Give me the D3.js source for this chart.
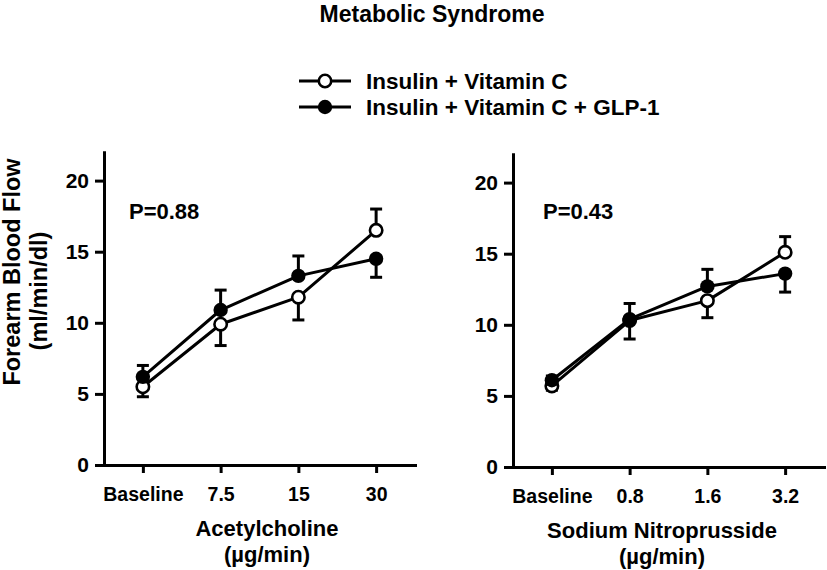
<!DOCTYPE html>
<html><head><meta charset="utf-8">
<script src="https://cdn.jsdelivr.net/npm/d3@7"></script>
<style>
body{margin:0;background:#fff;}
text{font-family:"Liberation Sans",Arial,Helvetica,sans-serif;font-weight:bold;fill:#000;}
</style></head>
<body>
<svg id="chart" width="827" height="570"></svg>
<script>
const title = "Metabolic Syndrome";
const seriesNames = ["Insulin + Vitamin C", "Insulin + Vitamin C + GLP-1"];
const yTicks = [0, 5, 10, 15, 20];
const yTitle = ["Forearm Blood Flow", "(ml/min/dl)"];

const achCategories = ["Baseline", "7.5", "15", "30"];
const achVitC = [5.5, 9.9, 11.8, 16.5];
const achVitCErr = [0.7, 1.5, 1.6, 1.5];
const achGLP = [6.2, 10.9, 13.3, 14.5];
const achGLPErr = [0.8, 1.4, 1.4, 1.3];
const achTitle = ["Acetylcholine", "(µg/min)"];
const achP = "P=0.88";

const snpCategories = ["Baseline", "0.8", "1.6", "3.2"];
const snpVitC = [5.7, 10.3, 11.7, 15.1];
const snpVitCErr = [0.3, 1.3, 1.2, 1.1];
const snpGLP = [6.1, 10.4, 12.7, 13.6];
const snpGLPErr = [0.3, 1.1, 1.2, 1.3];
const snpTitle = ["Sodium Nitroprusside", "(µg/min)"];
const snpP = "P=0.43";

const svg = d3.select("#chart");
const SW = 3;

svg.append("text").attr("x", 432).attr("y", 22).attr("text-anchor", "middle")
  .style("font-size", "23px").text(title);

// legend
seriesNames.forEach((name, i) => {
  const y = 81 + i * 26;
  const g = svg.append("g");
  g.append("line").attr("x1", 299).attr("x2", 351).attr("y1", y).attr("y2", y)
    .attr("stroke", "#000").attr("stroke-width", SW);
  g.append("circle").attr("cx", 325).attr("cy", y).attr("r", i === 0 ? 6.2 : 7.2)
    .attr("fill", i === 0 ? "#fff" : "#000").attr("stroke", "#000").attr("stroke-width", i === 0 ? 2.6 : 0);
  g.append("text").attr("x", 366).attr("y", y + 8).style("font-size", "22.5px").text(name);
});

// y axis title
svg.append("text").attr("transform", "translate(20,272) rotate(-90)").attr("text-anchor", "middle")
  .style("font-size", "23.5px").text(yTitle[0]);
svg.append("text").attr("transform", "translate(47,291) rotate(-90)").attr("text-anchor", "middle")
  .style("font-size", "23.5px").text(yTitle[1]);

function panel(opts) {
  const { x0, x1, yBottom, cats, vitC, vitCErr, glp, glpErr, xTitle, titleX, pText, pX } = opts;
  const y = d3.scaleLinear().domain([0, 22]).range([yBottom, yBottom - 22 * 14.22]);
  const x = d3.scalePoint().domain(cats).range([x0, x1]).padding(0.5);
  const g = svg.append("g");

  const ya = g.append("g").attr("transform", `translate(${x0},0)`)
    .call(d3.axisLeft(y).tickValues(yTicks).tickSize(9).tickSizeOuter(0).tickPadding(6));
  const xa = g.append("g").attr("transform", `translate(0,${yBottom})`)
    .call(d3.axisBottom(x).tickSize(8).tickSizeOuter(0).tickPadding(14));
  [ya, xa].forEach(a => {
    a.selectAll("path.domain").attr("stroke", "#000").attr("stroke-width", SW).attr("stroke-linecap", "square");
    a.selectAll(".tick line").attr("stroke", "#000").attr("stroke-width", SW);
    a.selectAll("text").attr("fill", "#000").style("font-family", '"Liberation Sans",Arial,sans-serif').style("font-weight", "bold");
  });
  ya.selectAll("text").style("font-size", "21px");
  xa.selectAll("text").style("font-size", "19.5px");

  g.append("text").attr("x", pX).attr("y", 219).style("font-size", "22px").text(pText);
  g.append("text").attr("x", titleX).attr("y", yBottom + 71).attr("text-anchor", "middle")
    .style("font-size", "22px").text(xTitle[0]);
  g.append("text").attr("x", titleX).attr("y", yBottom + 97).attr("text-anchor", "middle")
    .style("font-size", "22px").text(xTitle[1]);

  const series = [
    { vals: vitC, errs: vitCErr, other: glp, open: true },
    { vals: glp, errs: glpErr, other: vitC, open: false }
  ];
  const line = d3.line().x((d, i) => x(cats[i])).y(d => y(d));
  // error bars: higher series points up, lower points down
  series.forEach(s => {
    s.vals.forEach((v, i) => {
      const dir = v >= s.other[i] ? 1 : -1;
      const end = v + dir * s.errs[i];
      const cx = x(cats[i]);
      g.append("line").attr("x1", cx).attr("x2", cx).attr("y1", y(v)).attr("y2", y(end))
        .attr("stroke", "#000").attr("stroke-width", SW);
      g.append("line").attr("x1", cx - 6).attr("x2", cx + 6).attr("y1", y(end)).attr("y2", y(end))
        .attr("stroke", "#000").attr("stroke-width", SW);
    });
  });
  series.forEach(s => {
    g.append("path").datum(s.vals).attr("d", line).attr("fill", "none")
      .attr("stroke", "#000").attr("stroke-width", SW).attr("stroke-linejoin", "round");
  });
  series.forEach(s => {
    g.selectAll(null).data(s.vals).enter().append("circle")
      .attr("cx", (d, i) => x(cats[i])).attr("cy", d => y(d))
      .attr("r", s.open ? 6.2 : 7.2)
      .attr("fill", s.open ? "#fff" : "#000")
      .attr("stroke", "#000").attr("stroke-width", s.open ? 2.6 : 0);
  });
}

panel({ x0: 104, x1: 415, yBottom: 465, cats: achCategories, vitC: achVitC, vitCErr: achVitCErr,
  glp: achGLP, glpErr: achGLPErr, xTitle: achTitle, titleX: 267, pText: achP, pX: 129 });
panel({ x0: 513, x1: 824, yBottom: 467, cats: snpCategories, vitC: snpVitC, vitCErr: snpVitCErr,
  glp: snpGLP, glpErr: snpGLPErr, xTitle: snpTitle, titleX: 662, pText: snpP, pX: 543 });
</script>
</body></html>
